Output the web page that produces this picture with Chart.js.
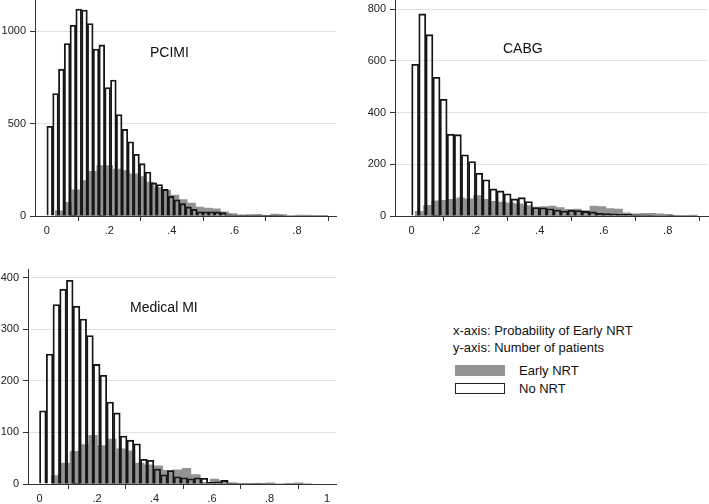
<!DOCTYPE html>
<html>
<head>
<meta charset="utf-8">
<title>Probability of Early NRT by group</title>
<script src="https://cdn.jsdelivr.net/npm/chart.js"></script>
<style>
  body { margin: 0; background: #fff; font-family: "Liberation Sans", Arial, sans-serif; color: #111; }
  #wrap { position: relative; width: 709px; height: 504px; overflow: hidden; }
  canvas { position: absolute; }
  .lab { position: absolute; font-size: 14px; line-height: 14px; white-space: nowrap; }
  .key { position: absolute; width: 50px; height: 11px; box-sizing: border-box; }
</style>
</head>
<body>
<div id="wrap">
  <canvas id="pci" width="350" height="245" style="left:0;top:0"></canvas>
  <canvas id="cabg" width="354" height="245" style="left:355px;top:0"></canvas>
  <canvas id="med" width="350" height="242" style="left:0;top:262px"></canvas>

  <div class="lab" style="left:150px;top:45px">PCIMI</div>
  <div class="lab" style="left:503px;top:41px">CABG</div>
  <div class="lab" style="left:130px;top:300px">Medical MI</div>

  <div class="lab" style="left:453px;top:324px;font-size:13px">x-axis: Probability of Early NRT</div>
  <div class="lab" style="left:453px;top:341px;font-size:13px">y-axis: Number of patients</div>
  <div class="key" style="left:455px;top:365px;background:#939393"></div>
  <div class="lab" style="left:519px;top:364px;font-size:13px">Early NRT</div>
  <div class="key" style="left:455px;top:383px;border:1.3px solid #222;background:#fff"></div>
  <div class="lab" style="left:519px;top:382px;font-size:13px">No NRT</div>
</div>

<script>
// PCIMI
const pciNoStart = 0, pciNoWidth = 0.0185;
const pciNo = [485, 662, 794, 933, 1032, 1119, 1114, 1041, 903, 925, 695, 735, 549, 468, 401, 334, 283, 238, 179, 170,
  144, 106, 88, 67, 49, 36, 23, 23, 23, 22, 18, 7, 4, 4, 3, 3, 2, 3, 4, 1, 1];
const pciEarlyStart = 0.026, pciEarlyWidth = 0.0265;
const pciEarly = [30, 76, 143, 193, 244, 274, 274, 256, 247, 230, 215, 185, 155, 140, 115, 90, 72, 50, 45, 40,
  25, 15, 8, 10, 11, 6, 12, 10, 4, 7, 7, 5, 6];

// CABG
const cabgNoStart = 0, cabgNoWidth = 0.0222;
const cabgNo = [587, 782, 702, 537, 452, 317, 315, 237, 211, 166, 140, 105, 97, 86, 66, 71, 56, 33, 32, 28,
  23, 19, 22, 21, 18, 16, 10, 9, 8, 6, 6, 5, 4, 3, 2, 2, 1];
const cabgEarlyStart = 0.01, cabgEarlyWidth = 0.026;
const cabgEarly = [19, 43, 60, 62, 66, 72, 68, 80, 66, 58, 55, 52, 48, 42, 36, 38, 40, 34, 27, 28,
  22, 40, 38, 30, 28, 14, 10, 12, 12, 10, 8, 4, 4, 5];

// Medical MI
const medNoStart = 0, medNoWidth = 0.0234;
const medNo = [142, 252, 348, 378, 395, 345, 320, 288, 232, 211, 159, 138, 93, 85, 78, 48, 46, 29, 18, 26,
  14, 12, 10, 12, 11, 3, 4, 7, 2, 1, 1, 1, 2, 1, 0];
const medEarlyStart = 0.04, medEarlyWidth = 0.0325;
const medEarly = [17, 41, 64, 77, 95, 75, 88, 69, 65, 41, 38, 36, 27, 28, 31, 19, 4, 10, 8, 3,
  2, 2, 2, 3, 1, 2, 3, 1];

const xTicks = [0, 0.2, 0.4, 0.6, 0.8];
const xTickLabels = ['0', '.2', '.4', '.6', '.8'];
const medXTicks = [0, 0.2, 0.4, 0.6, 0.8, 1];
const medXTickLabels = ['0', '.2', '.4', '.6', '.8', '1'];
const pciYTicks = [0, 500, 1000];
const cabgYTicks = [0, 200, 400, 600, 800];
const medYTicks = [0, 100, 200, 300, 400];

const GRAY = '#939393';

function barPoints(start, width, counts) {
  return counts.map((c, i) => ({ x: start + (i + 0.5) * width, y: c }));
}

// step outline of a histogram: left and right edge of every bin
function stepPoints(start, width, counts) {
  const pts = [{ x: start, y: 0 }];
  counts.forEach((c, i) => {
    pts.push({ x: start + i * width, y: c });
    pts.push({ x: start + (i + 1) * width, y: c });
  });
  pts.push({ x: start + counts.length * width, y: 0 });
  return pts;
}

function panel(id, o) {
  new Chart(document.getElementById(id), {
    type: 'bar',
    data: {
      datasets: [{
        type: 'bar',
        data: barPoints(o.noStart, o.noWidth, o.no),
        backgroundColor: 'rgba(0,0,0,0)',
        borderColor: '#151515',
        borderWidth: 1.2,
        barPercentage: 1,
        categoryPercentage: 1,
        order: 0
      }, {
        type: 'line',
        data: stepPoints(o.earlyStart, o.earlyWidth, o.early),
        borderColor: 'rgba(0,0,0,0)',
        borderWidth: 0,
        backgroundColor: GRAY,
        fill: 'origin',
        pointRadius: 0,
        tension: 0,
        order: 1
      }]
    },
    options: {
      responsive: false,
      animation: false,
      layout: { padding: o.pad },
      plugins: { legend: { display: false }, tooltip: { enabled: false } },
      scales: {
        x: {
          type: 'linear',
          offset: false,
          min: o.xMin, max: o.xMax,
          afterBuildTicks: s => { s.ticks = o.xTicks.map(v => ({ value: v })); },
          afterFit: s => { s.height = o.xH; s.paddingLeft = 0; s.paddingRight = 0; },
          ticks: {
            autoSkip: false, maxRotation: 0, padding: 3, color: '#222',
            font: { family: 'Liberation Sans', size: 11 },
            callback: v => o.xLabels[o.xTicks.indexOf(v)]
          },
          grid: { drawOnChartArea: false, drawTicks: true, tickLength: 5, tickColor: '#333' },
          border: { display: true, color: '#333', width: 1 }
        },
        y: {
          min: 0, max: o.yMax,
          afterBuildTicks: s => { s.ticks = o.yTicks.map(v => ({ value: v })); },
          afterFit: s => { s.width = o.yW; s.paddingTop = 0; s.paddingBottom = 0; },
          ticks: {
            padding: 4, color: '#222', font: { family: 'Liberation Sans', size: 11 },
            callback: v => String(v)
          },
          grid: {
            color: c => c.tick && c.tick.value === 0 ? 'rgba(0,0,0,0)' : '#e1e1e1',
            tickLength: 5, tickColor: '#333'
          },
          border: { display: true, color: '#333', width: 1 }
        }
      }
    }
  });
}

panel('pci', {
  no: pciNo, noStart: pciNoStart, noWidth: pciNoWidth,
  early: pciEarly, earlyStart: pciEarlyStart, earlyWidth: pciEarlyWidth,
  xMin: -0.038, xMax: 0.925, yMax: 1168,
  xTicks: xTicks, xLabels: xTickLabels, yTicks: pciYTicks,
  yW: 35, xH: 29, pad: { top: 0, right: 14, left: 0, bottom: 0 }
});
panel('cabg', {
  no: cabgNo, noStart: cabgNoStart, noWidth: cabgNoWidth,
  early: cabgEarly, earlyStart: cabgEarlyStart, earlyWidth: cabgEarlyWidth,
  xMin: -0.052, xMax: 0.926, yMax: 836,
  xTicks: xTicks, xLabels: xTickLabels, yTicks: cabgYTicks,
  yW: 40, xH: 29, pad: { top: 0, right: 1, left: 0, bottom: 0 }
});
panel('med', {
  no: medNo, noStart: medNoStart, noWidth: medNoWidth,
  early: medEarly, earlyStart: medEarlyStart, earlyWidth: medEarlyWidth,
  xMin: -0.04, xMax: 1.031, yMax: 417,
  xTicks: medXTicks, xLabels: medXTickLabels, yTicks: medYTicks,
  yW: 28, xH: 20, pad: { top: 7, right: 14, left: 0, bottom: 0 }
});
</script>
</body>
</html>
